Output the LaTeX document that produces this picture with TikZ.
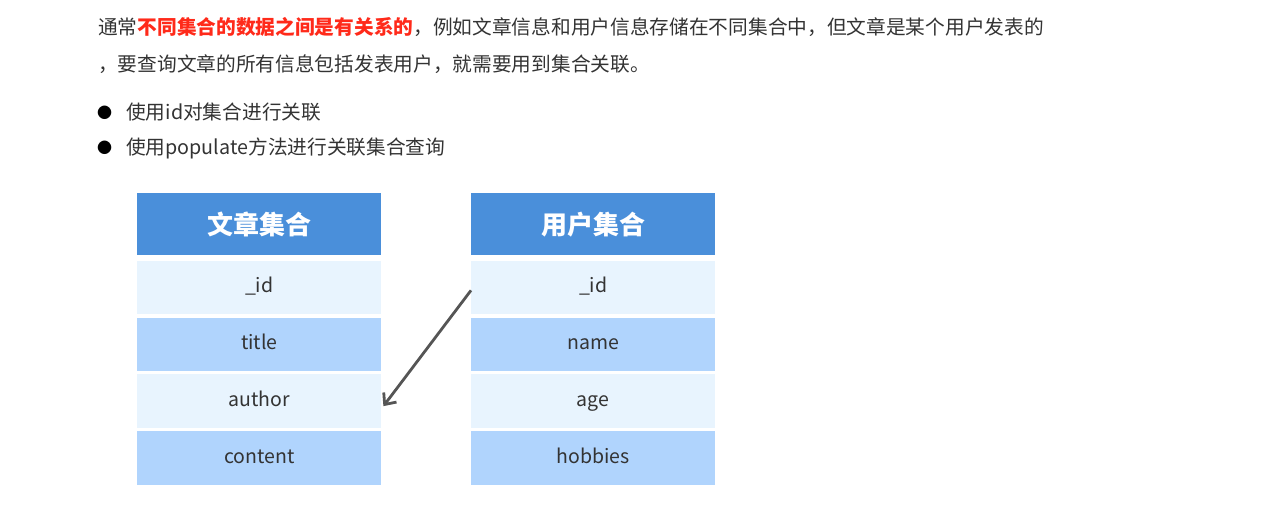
\documentclass[tikz,border=0pt]{standalone}
\usepackage{fontspec}
\setmainfont{Noto Sans CJK SC}
\usetikzlibrary{positioning, arrows.meta}
\definecolor{headblue}{HTML}{4A8FDA}
\definecolor{rowlight}{HTML}{E8F4FE}
\definecolor{rowdark}{HTML}{B0D4FD}
\definecolor{txtgray}{HTML}{333333}
\definecolor{hotred}{HTML}{FF2A1A}
\definecolor{arrowgray}{HTML}{555555}
\begin{document}
\begin{tikzpicture}[
    x=1pt, y=-1pt,
    node distance=3pt,
    every node/.style={inner sep=0pt, text=txtgray},
    para/.style={anchor=base west, font=\fontsize{19.7}{24}\selectfont},
    head/.style={fill=headblue, minimum width=244pt, minimum height=62pt, text=white, font=\fontsize{26}{30}\selectfont\bfseries},
    light/.style={fill=rowlight, minimum width=244pt, minimum height=53.5pt, text height=14pt, text depth=4pt, font=\fontsize{19.5}{24}\selectfont},
    dark/.style={light, fill=rowdark},
    arrow/.style={-{Straight Barb[length=9pt, width=16pt, line width=2.8pt]}, line width=2.8pt, draw=arrowgray}
]
\useasboundingbox (0,0) rectangle (1281,510);

% text above
\node[para] (p1) at (98,35) {通常\textcolor{hotred}{\bfseries 不同集合的数据之间是有关系的}，例如文章信息和用户信息存储在不同集合中，但文章是某个用户发表的};
\node[para] (p2) at (98,72) {，要查询文章的所有信息包括发表用户，就需要用到集合关联。};
\node[para, font=\fontsize{15}{18}\selectfont, text=black] (b1) at (97,119) {●};
\node[para] (t1) at (126,120) {使用id对集合进行关联};
\node[para, font=\fontsize{15}{18}\selectfont, text=black] (b2) at (97,154) {●};
\node[para] (t2) at (126,155) {使用populate方法进行关联集合查询};

% article collection
\node[head, anchor=north west] (a0) at (137,193) {文章集合};
\node[light, below=5pt of a0] (a1) {\_id};
\node[dark, below=of a1] (a2) {title};
\node[light, below=of a2] (a3) {author};
\node[dark, below=of a3] (a4) {content};

% user collection
\node[head, anchor=north west] (u0) at (471,193) {用户集合};
\node[light, below=5pt of u0] (u1) {\_id};
\node[dark, below=of u1] (u2) {name};
\node[light, below=of u2] (u3) {age};
\node[dark, below=of u3] (u4) {hobbies};

\draw[arrow] ([yshift=-3pt]u1.west) -- ([xshift=2pt,yshift=-5pt]a3.east);
\end{tikzpicture}
\end{document}
